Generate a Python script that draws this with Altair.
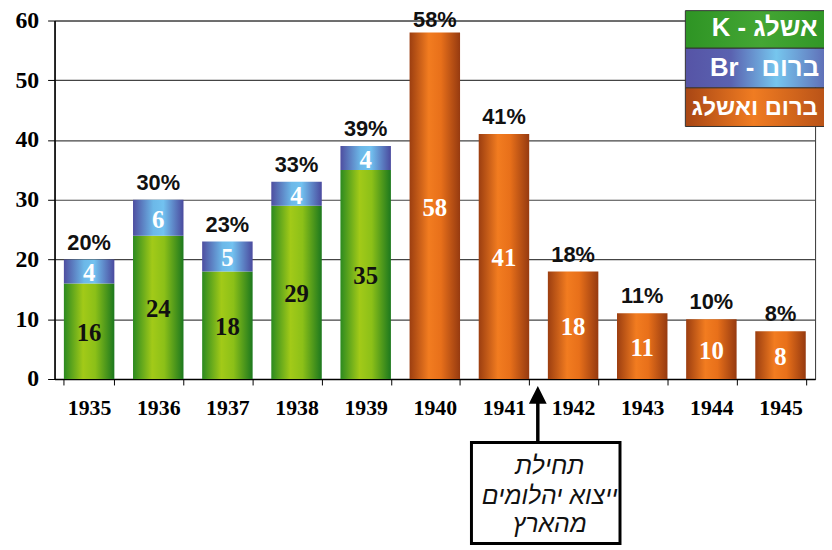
import altair as alt
import pandas as pd

years = ["1935", "1936", "1937", "1938", "1939", "1940", "1941", "1942", "1943", "1944", "1945"]
potash = [16, 24, 18, 29, 35, None, None, None, None, None, None]
bromine = [4, 6, 5, 4, 4, None, None, None, None, None, None]
both = [None, None, None, None, None, 58, 41, 18, 11, 10, 8]
pct_labels = ["20%", "30%", "23%", "33%", "39%", "58%", "41%", "18%", "11%", "10%", "8%"]
legend_labels = ["K - אשלג", "Br - ברום", "ברום ואשלג"]
note_lines = ["תחילת", "ייצוא יהלומים", "מהארץ"]

green_rows, blue_rows, orange_rows, total_rows = [], [], [], []
for i, yr in enumerate(years):
    k = potash[i] or 0
    b = bromine[i] or 0
    o = both[i] or 0
    if potash[i]:
        green_rows.append({"year": yr, "y0": 0, "y1": k, "mid": k / 2, "label": str(k)})
    if bromine[i]:
        blue_rows.append({"year": yr, "y0": k, "y1": k + b, "mid": k + b / 2, "label": str(b)})
    if both[i]:
        orange_rows.append({"year": yr, "y0": 0, "y1": o, "mid": o / 2, "label": str(o)})
    total_rows.append({"year": yr, "total": k + b + o, "label": pct_labels[i]})

green_df = pd.DataFrame(green_rows)
blue_df = pd.DataFrame(blue_rows)
orange_df = pd.DataFrame(orange_rows)
total_df = pd.DataFrame(total_rows)


def grad(stops):
    return alt.Gradient(
        gradient="linear", x1=0, x2=1, y1=0, y2=0,
        stops=[alt.GradientStop(offset=o, color=c) for o, c in stops],
    )


green_g = grad([(0, "#2c8a20"), (0.38, "#a2ca18"), (0.62, "#8cc018"), (1, "#1c781e")])
blue_g = grad([(0, "#4e4ea0"), (0.4, "#6cb8e8"), (0.6, "#72c2f0"), (1, "#4a4a9e")])
orange_g = grad([(0, "#9c3e10"), (0.38, "#f27c20"), (0.62, "#e8701a"), (1, "#963a10")])

leg_green = grad([(0, "#2e9424"), (0.5, "#44a634"), (1, "#2e9424")])
leg_blue = grad([(0, "#5654a6"), (0.3, "#5a62b0"), (0.6, "#76c6ee"), (1, "#5a5aaa")])
leg_orange = grad([(0, "#a84614"), (0.45, "#f07c22"), (1, "#b04c16")])

x_enc = alt.X(
    "year:O",
    scale=alt.Scale(domain=years, paddingInner=0.27, paddingOuter=0.135),
    axis=alt.Axis(
        title=None, labelAngle=0, labelFont="Liberation Serif", labelFontWeight="bold",
        labelFontSize=22, labelColor="black", tickColor="black", tickSize=6,
        tickBand="extent", domainColor="black", domainWidth=1.5, labelPadding=13,
        grid=False,
    ),
)
y_scale = alt.Scale(domain=[0, 60], nice=False)
y_axis = alt.Axis(
    title=None, values=[0, 10, 20, 30, 40, 50, 60], labelFont="Liberation Serif",
    labelFontWeight="bold", labelFontSize=24, labelColor="black", tickColor="black",
    tickSize=7, labelPadding=9, domainColor="black", domainWidth=1.5,
    grid=True, gridColor="#444444", gridWidth=1.2,
)


def bars(df, fill):
    return alt.Chart(df).mark_bar(fill=fill).encode(
        x=x_enc, y=alt.Y("y0:Q", scale=y_scale, axis=y_axis), y2="y1:Q"
    )


def vals(df, color):
    return alt.Chart(df).mark_text(
        font="Liberation Serif", fontWeight="bold", fontSize=25, color=color,
        baseline="middle", dy=2,
    ).encode(x=x_enc, y=alt.Y("mid:Q", scale=y_scale, axis=y_axis), text="label:N")


pct = alt.Chart(total_df).transform_calculate(
    ly="min(datum.total, 57.2)"
).mark_text(
    font="Liberation Sans", fontWeight="bold", fontSize=22, color="#111111",
    baseline="alphabetic", dy=-10,
).encode(x=x_enc, y=alt.Y("ly:Q", scale=y_scale, axis=y_axis), text="label:N")

# legend boxes (decoration drawn on top right)
one = pd.DataFrame({"k": [0]})
legend_layers = []
leg_fills = [leg_green, leg_blue, leg_orange]
leg_y = [(-10, 28), (28, 68), (68, 107)]
leg_ty = [8, 48, 88]
leg_tx = [717, 717, 707]
leg_fs = [26, 26, 24]
for i, lab in enumerate(legend_labels):
    d = pd.DataFrame({"label": [lab]})
    legend_layers.append(
        alt.Chart(d).mark_rect(fill=leg_fills[i], stroke="#333333", strokeWidth=1).encode(
            x=alt.value(637), x2=alt.value(790), y=alt.value(leg_y[i][0]), y2=alt.value(leg_y[i][1])
        )
    )
    legend_layers.append(
        alt.Chart(d).mark_text(
            font="Liberation Sans", fontWeight="bold", fontSize=leg_fs[i], color="white",
            baseline="middle", align="center",
        ).encode(x=alt.value(leg_tx[i]), y=alt.value(leg_ty[i]), text="label:N")
    )

# annotation arrow + box
arrow_head = alt.Chart(one).mark_point(
    shape="M-1,1L0,-1L1,1Z", filled=True, color="black", opacity=1, size=324
).encode(x=alt.value(488), y=alt.value(378))
arrow_line = alt.Chart(one).mark_rule(color="black", strokeWidth=3.5).encode(
    x=alt.value(488), y=alt.value(385), y2=alt.value(427)
)
box = alt.Chart(one).mark_rect(fill="white", stroke="black", strokeWidth=3).encode(
    x=alt.value(421), x2=alt.value(571), y=alt.value(426), y2=alt.value(528)
)
note_layers = []
for i, ln in enumerate(note_lines):
    note_layers.append(
        alt.Chart(pd.DataFrame({"line": [ln]})).mark_text(
            font="Liberation Sans", fontStyle="italic", fontSize=25, color="#111111",
            baseline="middle", align="center",
        ).encode(x=alt.value(500), y=alt.value([450, 480, 508][i]), text="line:N")
    )

chart = alt.layer(
    bars(green_df, green_g), bars(blue_df, blue_g), bars(orange_df, orange_g),
    vals(green_df, "#111111"), vals(blue_df, "white"), vals(orange_df, "white"),
    pct, *legend_layers, arrow_line, arrow_head, box, *note_layers,
).properties(
    width=768, height=362,
    autosize=alt.AutoSizeParams(type="none"),
    padding={"left": 47, "top": 10, "right": 9, "bottom": 170},
    background="white",
).configure_view(stroke="#333333", strokeWidth=1)

chart.save("out.html", embed_options={"renderer": "svg", "actions": False})
